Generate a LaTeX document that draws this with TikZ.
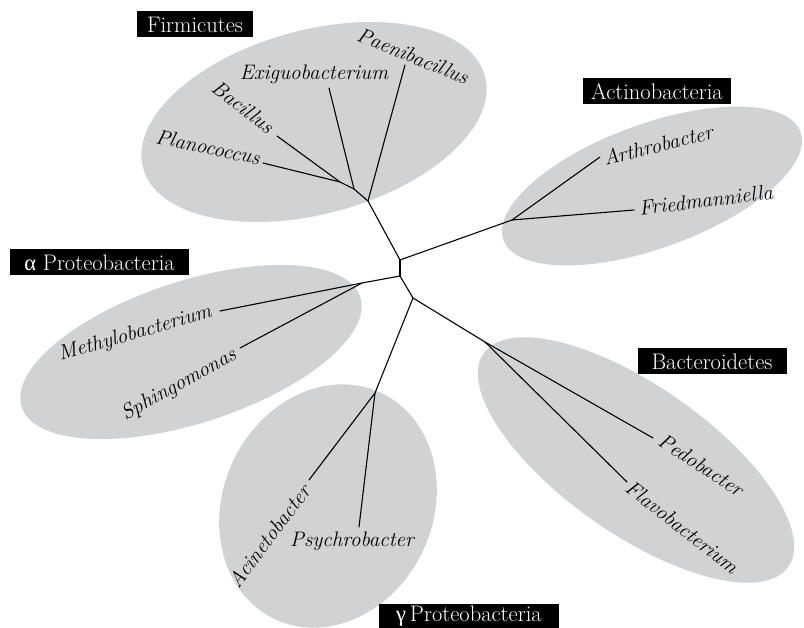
\documentclass[tikz,border=0pt]{standalone}
\usepackage{fontspec}
\newfontfamily\grk{Liberation Serif}
\definecolor{cladegray}{RGB}{209,210,212}
\tikzset{
  clade/.style={fill=cladegray, draw=none},
  branch/.style={line width=1.1pt, line cap=round, line join=round},
  taxon/.style={font=\fontsize{21}{25}\selectfont\itshape, inner sep=0pt},
  group/.style={fill=black, text=white, font=\fontsize{22.5}{26}\selectfont, inner sep=0pt, minimum height=26pt},
}
\begin{document}
\begin{tikzpicture}[x=1pt,y=-1pt]
\useasboundingbox (0,0) rectangle (804,628);
% clade ellipses
\fill[clade, rotate around={15:(314,122)}] (314,122) ellipse [x radius=177pt, y radius=92pt];
\fill[clade, rotate around={20:(652,186)}] (652,186) ellipse [x radius=158pt, y radius=62pt];
\fill[clade, rotate around={18:(191,352)}] (191,352) ellipse [x radius=178pt, y radius=71pt];
\fill[clade, rotate around={65:(328,506)}] (328,506) ellipse [x radius=125pt, y radius=105pt];
\fill[clade, rotate around={-35:(636,460)}] (636,460) ellipse [x radius=186pt, y radius=74pt];
% tree coordinates
\coordinate (r1) at (400,260);
\coordinate (r2) at (400,276);
\coordinate (f0) at (368,201);
\coordinate (f1) at (354,189);
\coordinate (f2) at (340,182);
\coordinate (pla) at (263,163);
\coordinate (bac) at (277,136);
\coordinate (exi) at (329,88);
\coordinate (pae) at (405,65);
\coordinate (a0) at (512,220);
\coordinate (art) at (600,157);
\coordinate (fri) at (634,210);
\coordinate (al0) at (362,283);
\coordinate (met) at (220,311);
\coordinate (sph) at (240,348);
\coordinate (p0) at (413,298);
\coordinate (g0) at (375,393);
\coordinate (aci) at (309,480);
\coordinate (psy) at (359,527);
\coordinate (b0) at (485,342);
\coordinate (ped) at (653,438);
\coordinate (fla) at (627,482);
% branches
\draw[branch] (r1) -- (r2);
\draw[branch] (r1) -- (f0) -- (f1) -- (f2) -- (pla);
\draw[branch] (f2) -- (bac);
\draw[branch] (f1) -- (exi);
\draw[branch] (f0) -- (pae);
\draw[branch] (r1) -- (a0) -- (art);
\draw[branch] (a0) -- (fri);
\draw[branch] (r2) -- (al0) -- (met);
\draw[branch] (al0) -- (sph);
\draw[branch] (r2) -- (p0) -- (g0) -- (aci);
\draw[branch] (g0) -- (psy);
\draw[branch] (p0) -- (b0) -- (ped);
\draw[branch] (b0) -- (fla);
% taxon labels
\node[taxon, rotate=-22] (lpae) at (413,56) {Paenibacillus};
\node[taxon] (lexi) at (314,74) {Exiguobacterium};
\node[taxon, rotate=-38] (lbac) at (243,107) {Bacillus};
\node[taxon, rotate=-12] (lpla) at (208,147) {Planococcus};
\node[taxon, rotate=14] (lart) at (658,145) {Arthrobacter};
\node[taxon, rotate=7] (lfri) at (706,200) {Friedmanniella};
\node[taxon, rotate=16] (lmet) at (135,334) {Methylobacterium};
\node[taxon, rotate=29] (lsph) at (179,385) {Sphingomonas};
\node[taxon, rotate=53] (laci) at (269,536) {Acinetobacter};
\node[taxon] (lpsy) at (352,541) {Psychrobacter};
\node[taxon, rotate=-33] (lped) at (701,465) {Pedobacter};
\node[taxon, rotate=-38] (lfla) at (682,527) {Flavobacterium};
% group labels
\node[group, minimum width=116pt] (gfir) at (195,24.5) {Firmicutes};
\node[group, minimum width=148pt] (gact) at (657,91.5) {Actinobacteria};
\node[group, minimum width=179pt] (galp) at (99.5,262.5) {{\grk α} Proteobacteria};
\node[group, minimum width=149pt] (gbac) at (712,361.5) {Bacteroidetes};
\node[group, minimum width=180pt] (ggam) at (469,616.5) {{\grk γ}\,Proteobacteria};
\end{tikzpicture}
\end{document}
